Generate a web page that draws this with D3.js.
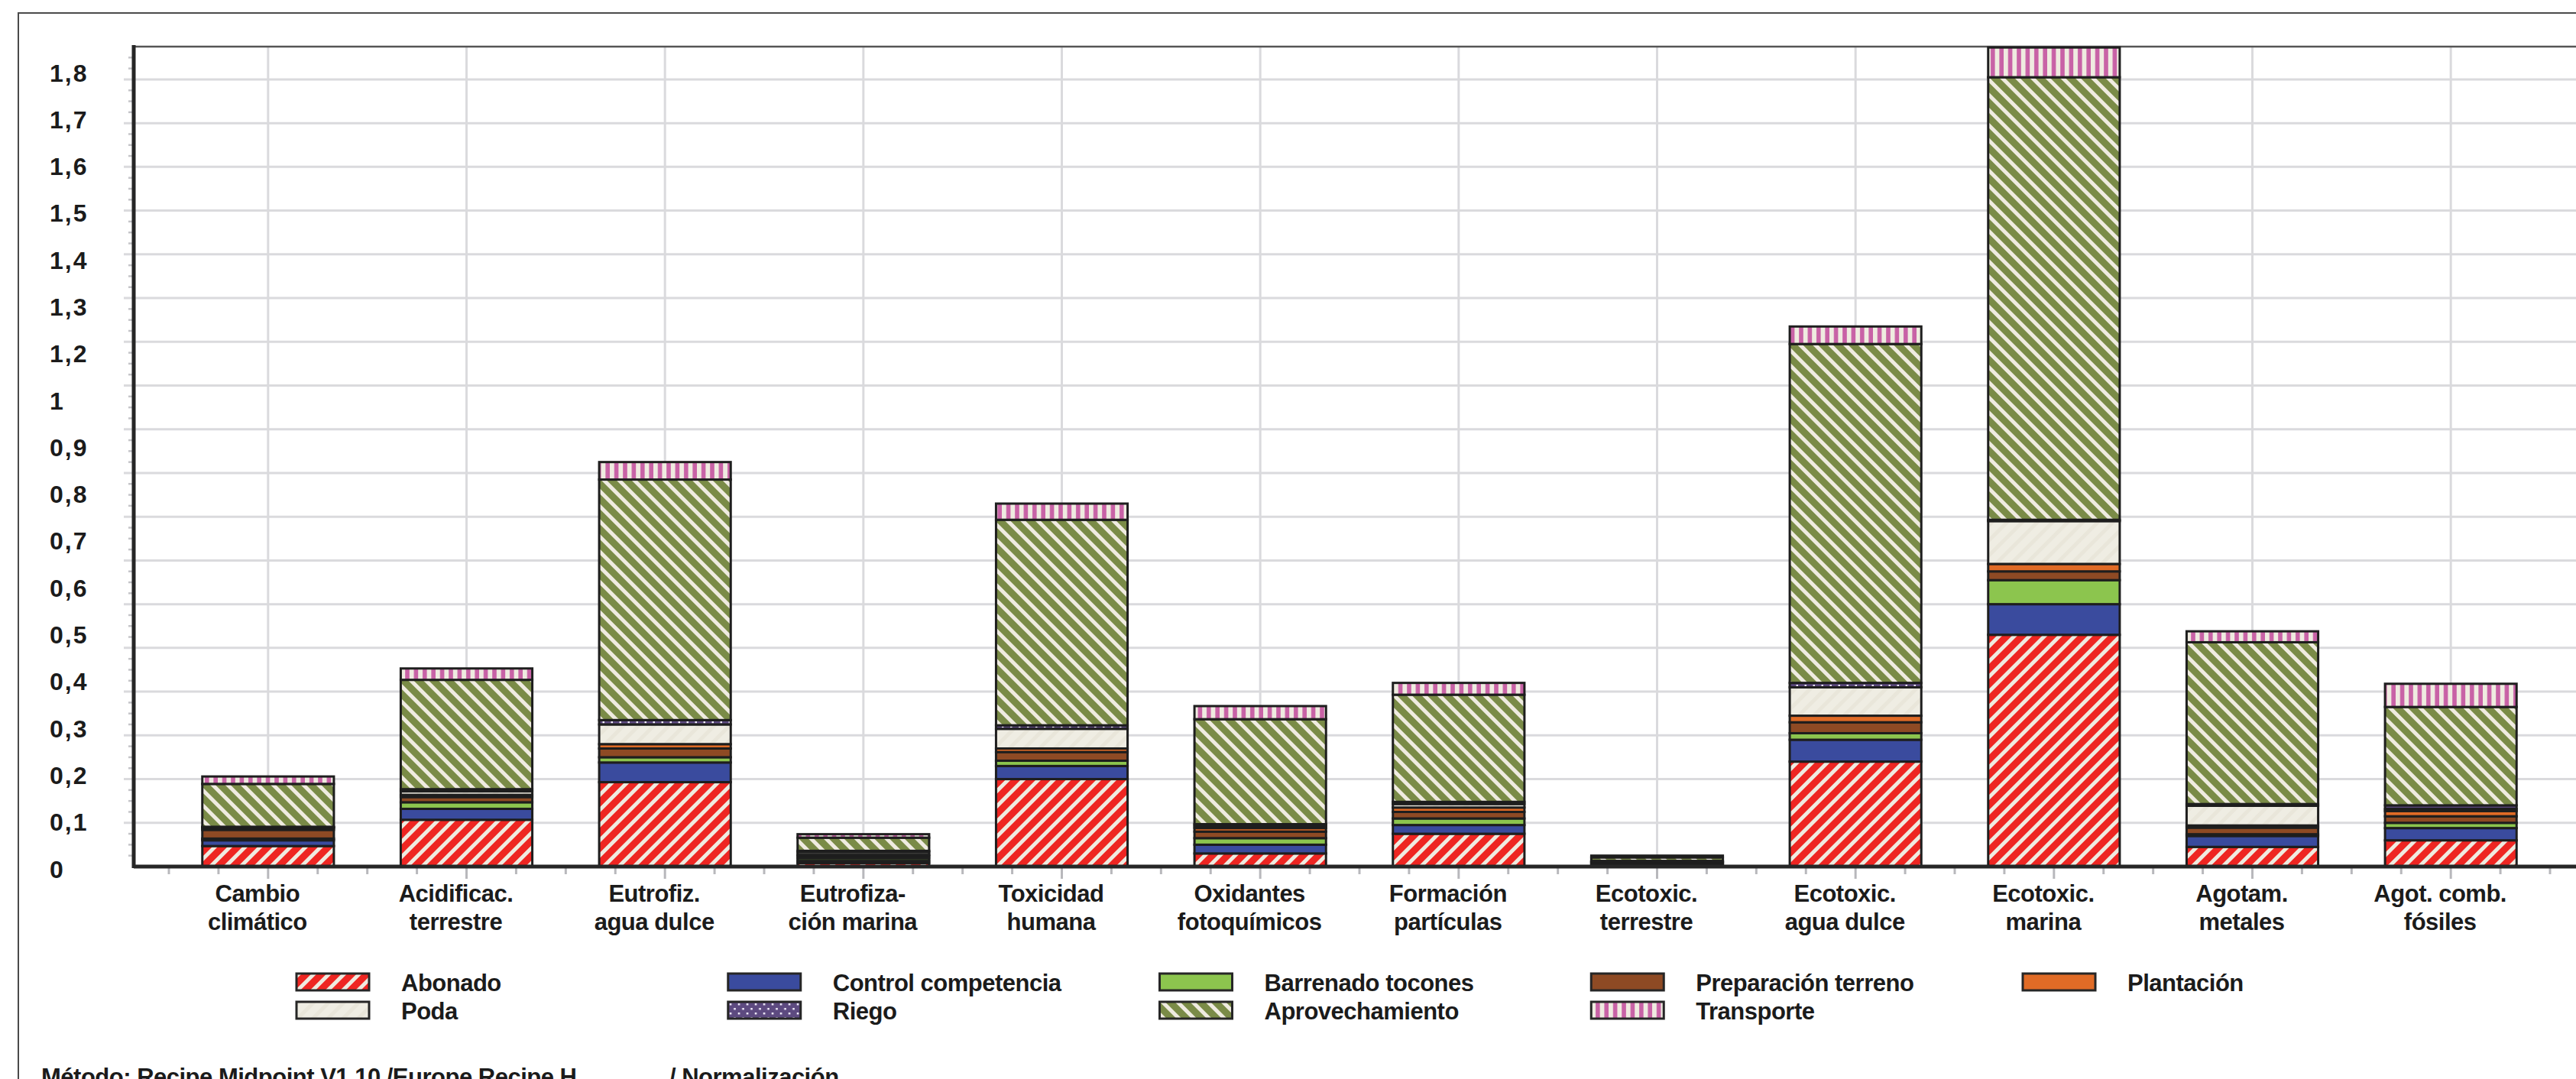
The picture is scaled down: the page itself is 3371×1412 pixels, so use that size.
<!DOCTYPE html>
<html>
<head>
<meta charset="utf-8">
<script src="https://cdn.jsdelivr.net/npm/d3@7"></script>
<style>
  body { margin: 0; background: #fff; }
  svg text { font-family: "Liberation Sans", Arial, sans-serif; font-weight: bold; fill: #1b1b1b; }
</style>
</head>
<body>
<div id="chart"></div>
<script>
const width = 3371;
const height = 1412;

// categories, two lines each
const categoryLines = [
  ["Cambio", "climático"],
  ["Acidificac.", "terrestre"],
  ["Eutrofiz.", "agua dulce"],
  ["Eutrofiza-", "ción marina"],
  ["Toxicidad", "humana"],
  ["Oxidantes", "fotoquímicos"],
  ["Formación", "partículas"],
  ["Ecotoxic.", "terrestre"],
  ["Ecotoxic.", "agua dulce"],
  ["Ecotoxic.", "marina"],
  ["Agotam.", "metales"],
  ["Agot. comb.", "fósiles"]
];
const categories = categoryLines.map((l) => l.join(" "));

// stack order, bottom to top (also legend order, row by row)
const seriesNames = [
  "Abonado", "Control competencia", "Barrenado tocones", "Preparación terreno", "Plantación",
  "Poda", "Riego", "Aprovechamiento", "Transporte"
];

const abonado         = [0.047, 0.107, 0.193, 0.008, 0.200, 0.030, 0.075, 0.002, 0.240, 0.530, 0.045, 0.060];
const control         = [0.013, 0.025, 0.045, 0.005, 0.030, 0.020, 0.020, 0.003, 0.050, 0.070, 0.025, 0.028];
const barrenado       = [0.004, 0.015, 0.012, 0.006, 0.012, 0.015, 0.015, 0.002, 0.015, 0.055, 0.004, 0.012];
const preparacion     = [0.020, 0.012, 0.020, 0.005, 0.020, 0.015, 0.015, 0.002, 0.025, 0.020, 0.015, 0.015];
const plantacion      = [0.004, 0.005, 0.010, 0.003, 0.008, 0.008, 0.010, 0.001, 0.015, 0.017, 0.005, 0.012];
const poda            = [0.002, 0.008, 0.045, 0.006, 0.045, 0.005, 0.008, 0.002, 0.065, 0.098, 0.045, 0.005];
const riego           = [0.001, 0.005, 0.010, 0.003, 0.008, 0.004, 0.005, 0.001, 0.010, 0.003, 0.004, 0.008];
const aprovechamiento = [0.098, 0.250, 0.550, 0.030, 0.470, 0.240, 0.245, 0.008, 0.775, 1.012, 0.370, 0.225];
const transporte      = [0.017, 0.026, 0.040, 0.008, 0.037, 0.030, 0.027, 0.004, 0.040, 0.068, 0.025, 0.053];

const seriesValues = [abonado, control, barrenado, preparacion, plantacion, poda, riego, aprovechamiento, transporte];

// y labels as printed (no "1,1" in the original)
const yTickLabels = ["1,8", "1,7", "1,6", "1,5", "1,4", "1,3", "1,2", "1", "0,9", "0,8", "0,7",
  "0,6", "0,5", "0,4", "0,3", "0,2", "0,1", "0"];

const footerLeft = "Método: Recipe Midpoint V1.10 /Europe Recipe H";
const footerRight = "/ Normalización";

// rows for d3.stack
const rows = categories.map((c, i) => {
  const r = { category: c };
  seriesNames.forEach((s, j) => (r[s] = seriesValues[j][i]));
  return r;
});

const plot = { left: 175, top: 61, bottom: 1134, right: width };

const svg = d3.select("#chart").append("svg")
  .attr("width", width)
  .attr("height", height);

// ---- patterns
const defs = svg.append("defs");
const cream = "#efebe0";

function stripes(id, bg, fg, angle, size, w) {
  const p = defs.append("pattern")
    .attr("id", id)
    .attr("patternUnits", "userSpaceOnUse")
    .attr("width", size)
    .attr("height", size)
    .attr("patternTransform", `rotate(${angle})`);
  p.append("rect").attr("width", size).attr("height", size).attr("fill", bg);
  p.append("rect").attr("width", w).attr("height", size).attr("fill", fg);
}
stripes("p-abonado", "#ee2622", cream, 45, 14, 5);
stripes("p-aprov", "#7a8b47", cream, -45, 14, 5);
stripes("p-transp", "#c862a6", cream, 0, 11.4, 5.8);
stripes("p-poda", "#efede3", "#e9e6da", 45, 14, 5);

const riegoPat = defs.append("pattern")
  .attr("id", "p-riego")
  .attr("patternUnits", "userSpaceOnUse")
  .attr("width", 11)
  .attr("height", 12);
riegoPat.append("rect").attr("width", 11).attr("height", 12).attr("fill", "#5d4a80");
riegoPat.append("rect").attr("x", 2).attr("y", 2).attr("width", 2.5).attr("height", 2.5).attr("fill", "#f4f0ff");
riegoPat.append("rect").attr("x", 7.5).attr("y", 8).attr("width", 2.5).attr("height", 2.5).attr("fill", "#f4f0ff");

const fills = d3.scaleOrdinal()
  .domain(seriesNames)
  .range([
    "url(#p-abonado)", "#3a4b9e", "#8cc54e", "#8e4a24", "#e06b26",
    "url(#p-poda)", "url(#p-riego)", "url(#p-aprov)", "url(#p-transp)"
  ]);

// ---- scales
const x = d3.scaleBand()
  .domain(categories)
  .range([221, 3337])
  .paddingInner(0.337)
  .paddingOuter(0.1685);

const y = d3.scaleLinear()
  .domain([0, 1.875])
  .range([plot.bottom, plot.top]);

const yLabelPos = d3.scalePoint()
  .domain(yTickLabels)
  .range([95, 1137]);

// ---- outer frame (cut by the picture edge)
svg.append("path")
  .attr("d", `M24,${height} V17 H${width}`)
  .attr("fill", "none")
  .attr("stroke", "#4a4a4a")
  .attr("stroke-width", 2);

// ---- grid
const gridValues = d3.range(1, 19).map((d) => d / 10);
svg.append("g")
  .selectAll("line")
  .data(gridValues)
  .join("line")
  .attr("x1", plot.left - 13)
  .attr("x2", plot.right)
  .attr("y1", (d) => y(d))
  .attr("y2", (d) => y(d))
  .attr("stroke", "#dadadd")
  .attr("stroke-width", 3);

svg.append("g")
  .selectAll("line")
  .data(categories)
  .join("line")
  .attr("x1", (d) => x(d) + x.bandwidth() / 2)
  .attr("x2", (d) => x(d) + x.bandwidth() / 2)
  .attr("y1", plot.top)
  .attr("y2", plot.bottom)
  .attr("stroke", "#dadadd")
  .attr("stroke-width", 3);

// minor y ticks
const minorY = d3.range(0, 75).map((d) => d * 0.025).filter((d) => Math.round(d * 1000) % 100 !== 0);
svg.append("g")
  .selectAll("line")
  .data(minorY)
  .join("line")
  .attr("x1", plot.left - 7)
  .attr("x2", plot.left)
  .attr("y1", (d) => y(d))
  .attr("y2", (d) => y(d))
  .attr("stroke", "#c4c4c8")
  .attr("stroke-width", 2.5);

// x ticks: quarter steps, long at centres
const xTicks = [];
categories.forEach((c) => {
  const cx = x(c) + x.bandwidth() / 2;
  [-2, -1, 0, 1].forEach((k) => xTicks.push({ pos: cx + (k * x.step()) / 4, major: k === 0 }));
});
xTicks.push({ pos: x(categories[categories.length - 1]) + x.bandwidth() / 2 + x.step() / 2, major: false });
svg.append("g")
  .selectAll("line")
  .data(xTicks)
  .join("line")
  .attr("x1", (d) => d.pos)
  .attr("x2", (d) => d.pos)
  .attr("y1", plot.bottom)
  .attr("y2", (d) => plot.bottom + (d.major ? 16 : 10))
  .attr("stroke", "#b8b8bc")
  .attr("stroke-width", 3);

// plot top border
svg.append("line")
  .attr("x1", plot.left)
  .attr("x2", plot.right)
  .attr("y1", plot.top)
  .attr("y2", plot.top)
  .attr("stroke", "#555")
  .attr("stroke-width", 2.5);

// ---- stacked bars
const stacked = d3.stack().keys(seriesNames)(rows);

svg.append("g")
  .selectAll("g")
  .data(stacked)
  .join("g")
  .attr("fill", (d) => fills(d.key))
  .selectAll("rect")
  .data((d) => d)
  .join("rect")
  .attr("x", (d) => x(d.data.category))
  .attr("y", (d) => y(d[1]))
  .attr("width", x.bandwidth())
  .attr("height", (d) => y(d[0]) - y(d[1]))
  .attr("stroke", "#1e1e1e")
  .attr("stroke-width", 3);

// ---- axes lines
svg.append("line")
  .attr("x1", plot.left)
  .attr("x2", plot.left)
  .attr("y1", plot.top - 2)
  .attr("y2", plot.bottom + 2)
  .attr("stroke", "#262626")
  .attr("stroke-width", 5);

svg.append("line")
  .attr("x1", plot.left)
  .attr("x2", plot.right)
  .attr("y1", plot.bottom)
  .attr("y2", plot.bottom)
  .attr("stroke", "#262626")
  .attr("stroke-width", 5);

// ---- y labels
svg.append("g")
  .selectAll("text")
  .data(yTickLabels)
  .join("text")
  .attr("x", 65)
  .attr("y", (d) => yLabelPos(d))
  .attr("dy", "0.36em")
  .attr("font-size", 32)
  .attr("letter-spacing", 2)
  .text((d) => d);

// ---- category labels
const catLabels = svg.append("g")
  .selectAll("text")
  .data(categoryLines)
  .join("text")
  .attr("text-anchor", "middle")
  .attr("font-size", 31)
  .attr("letter-spacing", -0.5)
  .attr("transform", (d, i) => `translate(${x(categories[i]) + x.bandwidth() / 2 - 14},0)`);
catLabels.selectAll("tspan")
  .data((d) => d)
  .join("tspan")
  .attr("x", 0)
  .attr("y", (d, i) => 1180 + i * 37)
  .text((d) => d);

// ---- legend
const legendCol = d3.scalePoint().domain(d3.range(5)).range([388, 2647]);
const legendRow = d3.scalePoint().domain([0, 1]).range([1274, 1311]);

const legend = svg.append("g")
  .selectAll("g")
  .data(seriesNames)
  .join("g")
  .attr("transform", (d, i) => `translate(${legendCol(i % 5)},${legendRow(Math.floor(i / 5))})`);

legend.append("rect")
  .attr("width", 95)
  .attr("height", 22)
  .attr("fill", (d) => fills(d))
  .attr("stroke", "#262626")
  .attr("stroke-width", 3);

legend.append("text")
  .attr("x", 137)
  .attr("y", 23)
  .attr("font-size", 31)
  .attr("letter-spacing", -0.5)
  .text((d) => d);

// ---- footer (cut by the bottom edge, as in the original)
svg.append("text")
  .attr("x", 54)
  .attr("y", 1420)
  .attr("font-size", 31)
  .attr("letter-spacing", -0.5)
  .text(footerLeft);
svg.append("text")
  .attr("x", 876)
  .attr("y", 1420)
  .attr("font-size", 31)
  .attr("letter-spacing", -0.5)
  .text(footerRight);
</script>
</body>
</html>
